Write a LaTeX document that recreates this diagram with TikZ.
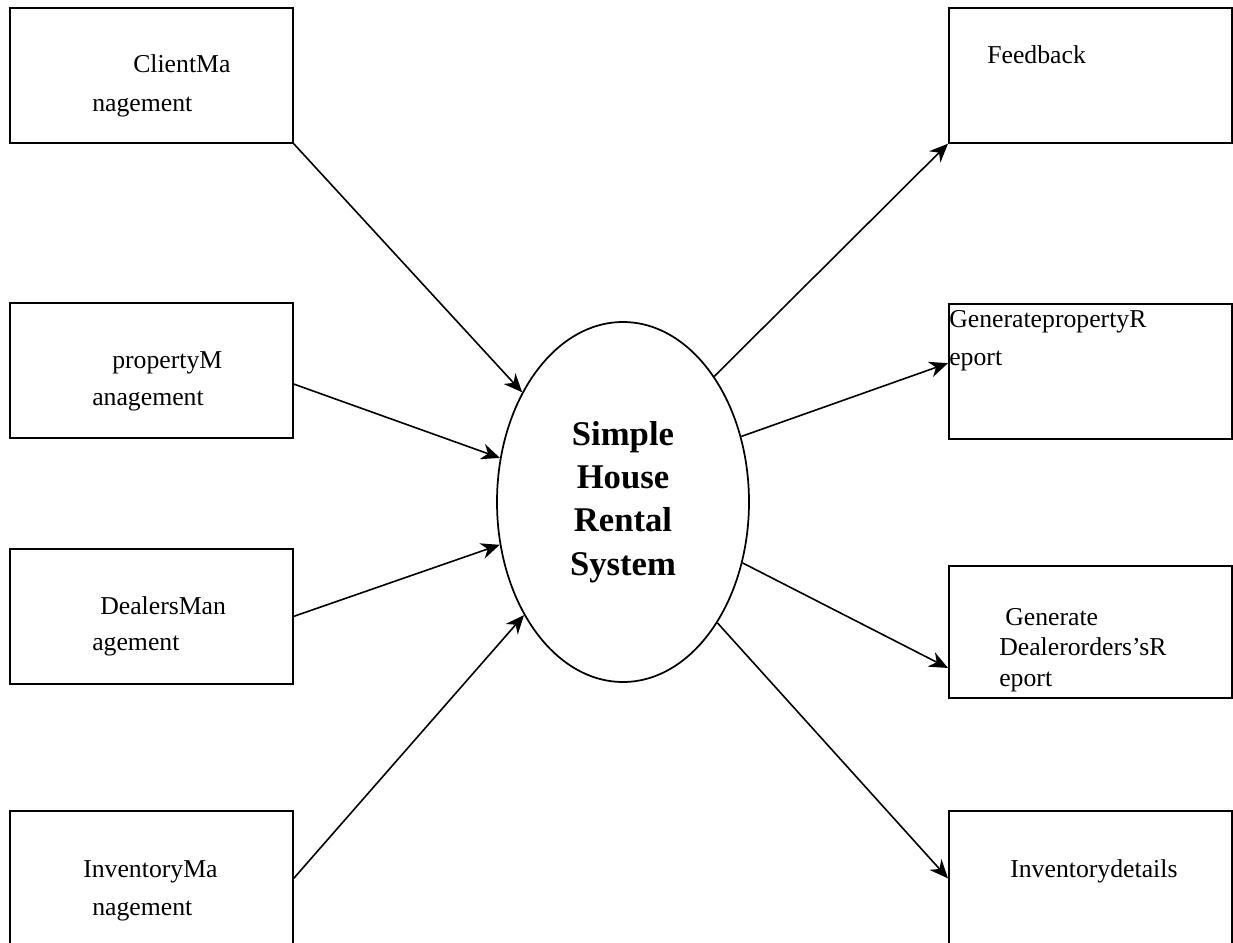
\documentclass[tikz,border=0pt]{standalone}
\usepackage{fontspec}
\setmainfont{Liberation Serif}
\usetikzlibrary{shapes}
\usetikzlibrary{arrows.meta}
\usetikzlibrary{calc}

\begin{document}
\begin{tikzpicture}[x=0.75pt,y=-0.75pt,
  box/.style={draw, line width=1.3pt, minimum width=212.25pt,
              minimum height=101.25pt, inner sep=0pt, anchor=north west},
  lbl/.style={anchor=base west, inner sep=0pt,
              font=\fontsize{19.3}{23}\selectfont},
  flow/.style={line width=1.2pt, -{Stealth[length=14pt, width=12pt, inset=4.5pt]}}]
\useasboundingbox (0,0) rectangle (1233,943);
\clip (0,0) rectangle (1233,943);

% left side
\node [box] (cm) at (9,7) {};
\node [box] (pm) at (9,302) {};
\node [box] (dm) at (9,548) {};
\node [box] (im) at (9,810) {};

% right side
\node [box] (fb) at (948,7) {};
\node [box] (gp) at (948,303) {};
\node [box, minimum height=99pt] (gd) at (948,565) {};
\node [box] (id) at (948,810) {};

% the system
\node [ellipse, draw, line width=1.3pt, minimum width=189pt,
       minimum height=270pt, inner sep=0pt, align=center,
       font=\bfseries\fontsize{26}{32.5}\selectfont] (sys)
       at (623,502) {Simple\\House\\Rental\\System};

% box texts
\node [lbl] (cm1) at (133,72) {ClientMa};
\node [lbl] (cm2) at (92,111) {nagement};
\node [lbl] (pm1) at (112,368) {propertyM};
\node [lbl] (pm2) at (92,405) {anagement};
\node [lbl] (dm1) at (100,614) {DealersMan};
\node [lbl] (dm2) at (92,650) {agement};
\node [lbl] (im1) at (83,877) {InventoryMa};
\node [lbl] (im2) at (92,915) {nagement};
\node [lbl] (fb1) at (987,63) {Feedback};
\node [lbl] (gp1) at (949,327) {GeneratepropertyR};
\node [lbl] (gp2) at (949,365) {eport};
\node [lbl] (gd1) at (1005,625) {Generate};
\node [lbl] (gd2) at (999,655) {Dealerorders’sR};
\node [lbl] (gd3) at (999,686) {eport};
\node [lbl] (id1) at (1010,877) {Inventorydetails};

% flows in
\draw [flow] (cm.south east) -- (sys);
\draw [flow] ($(pm.north east)!0.6!(pm.south east)$) -- (sys);
\draw [flow] (dm.east) -- (sys);
\draw [flow] (im.east) -- (sys);

% flows out
\draw [flow] (sys.54.7) -- (fb.south west);
\draw [flow] (sys.29) -- ($(gp.north west)!0.44!(gp.south west)$);
\draw [flow] (sys.-27.3) -- ($(gd.north west)!0.77!(gd.south west)$);
\draw [flow] (sys.-52.6) -- (id.west);
\end{tikzpicture}
\end{document}
